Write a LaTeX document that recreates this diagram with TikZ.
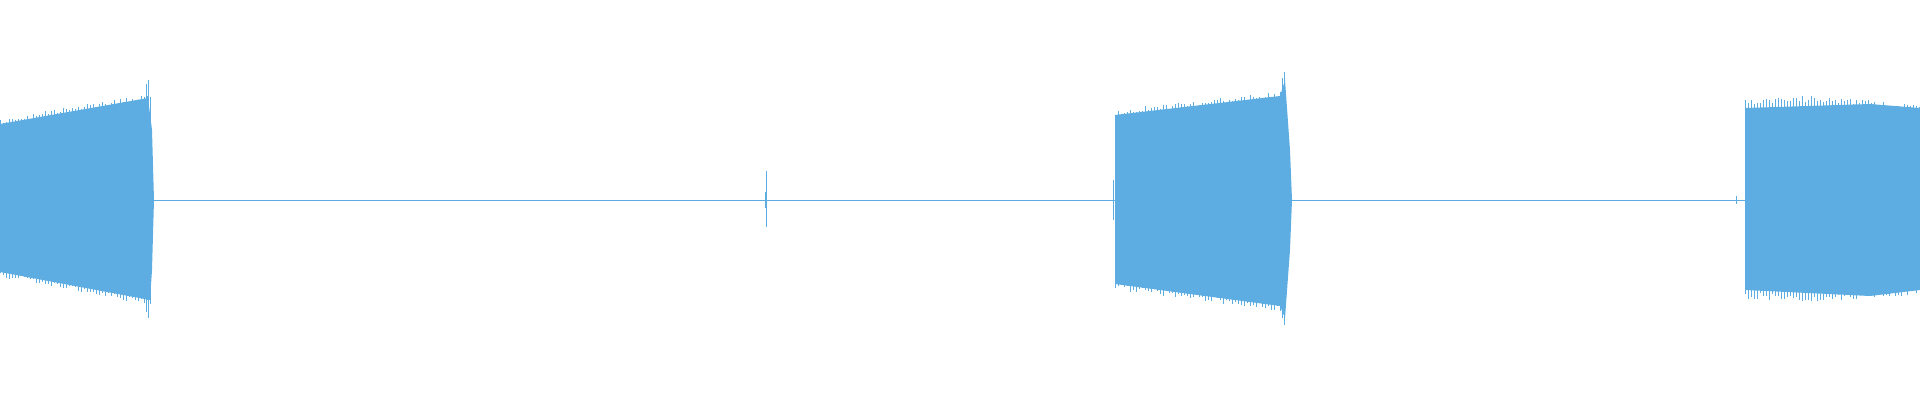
\documentclass[tikz,border=0pt]{standalone}
\begin{document}
\begin{tikzpicture}[x=1pt,y=-1pt]
\definecolor{wave}{HTML}{5DADE2}
\tikzset{wv/.style={draw=wave,line width=0.8pt},blk/.style={fill=wave,draw=none}}
\pgfmathsetseed{7}
\useasboundingbox (0,0) rectangle (1920,400);
% center line
\draw[wave,line width=0.9pt] (150,200) -- (1115,200);
\draw[wave,line width=0.9pt] (1290,200) -- (1748,200);
% spike
\draw[wv] (766,171) -- (766,227);
\draw[wv,line width=1.5pt] (766,192) -- (766,208);
\draw[wv] (1736,196) -- (1736,204);
% block 1
\fill[blk] (0,124) -- (148,98) -- (152,130) -- (154,200) -- (152,270) -- (150,300) -- (0,272) -- cycle;
\foreach \x in {0,3,...,150}{
  \pgfmathsetmacro{\t}{124-26*\x/150-5*rnd}
  \pgfmathsetmacro{\b}{272+28*\x/150+5*rnd}
  \draw[wv,line width=0.6pt] (\x,\t) -- (\x,\b);}
\draw[wv] (148,80) -- (148,318);
\draw[wv] (146,84) -- (146,312);
% block 2
\fill[blk] (1115,115) -- (1280,96) -- (1285,80) -- (1290,150) -- (1292,200) -- (1290,250) -- (1285,318) -- (1280,306) -- (1115,284) -- cycle;
\foreach \x in {1115,1118,...,1285}{
  \pgfmathsetmacro{\t}{115-19*(\x-1115)/170-6*rnd}
  \pgfmathsetmacro{\b}{284+22*(\x-1115)/170+6*rnd}
  \draw[wv,line width=0.6pt] (\x,\t) -- (\x,\b);}
\draw[wv] (1284,72) -- (1284,325);
\draw[wv] (1282,78) -- (1282,318);
\draw[wv] (1113,180) -- (1113,220);
% block 3
\fill[blk] (1745,108) -- (1870,104) -- (1920,108) -- (1920,290) -- (1870,296) -- (1745,290) -- cycle;
\foreach \x in {1745,1748,...,1920}{
  \pgfmathsetmacro{\t}{106-4*sin((\x-1745)*1.5)-6*rnd}
  \pgfmathsetmacro{\b}{292+3*sin((\x-1745)*1.5)+7*rnd}
  \draw[wv,line width=0.6pt] (\x,\t) -- (\x,\b);}
\end{tikzpicture}
\end{document}
